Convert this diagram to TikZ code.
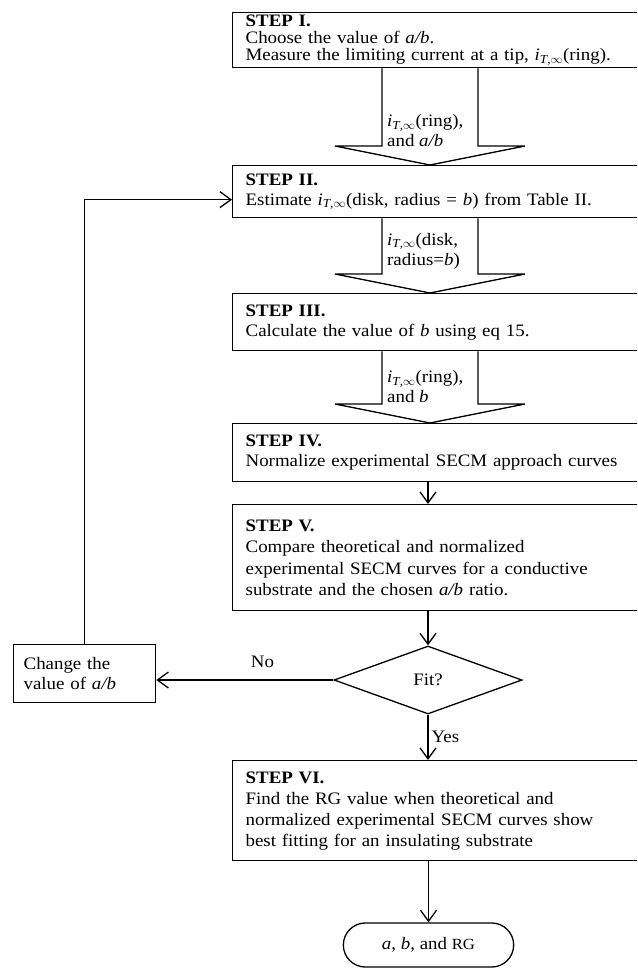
\documentclass[tikz,border=0pt]{standalone}
\usepackage{fontspec}
\setmainfont{Liberation Serif}[FakeStretch=1.08]
\usetikzlibrary{%
  shapes, shapes.geometric, shapes.misc, arrows, arrows.meta,
  calc, positioning,
}
\newcommand\itinf{\textit{i}\textsubscript{\textit{T},$\infty$}}
% block arrow between two step boxes, down the arrow column
\newcommand\blockarrow[2]{%
  \path (#1.south -| col) coordinate (ba) (#2.north -| col) coordinate (bb);
  \draw[blk] ([xshift=-48pt]ba) -- ([xshift=-48pt,yshift=19pt]bb)
    -- ([xshift=-95pt,yshift=19pt]bb) -- (bb)
    -- ([xshift=95pt,yshift=19pt]bb) -- ([xshift=48pt,yshift=19pt]bb)
    -- ([xshift=48pt]ba);}

\begin{document}
\begin{tikzpicture}[
  x=1pt, y=-1pt,
  font=\fontsize{17.5}{20}\selectfont,
  stepbox/.style={rectangle, draw, line width=1.3pt, anchor=north west,
    minimum width=440pt, text width=414pt, inner xsep=12pt, inner ysep=2pt,
    align=left},
  fitbox/.style={diamond, draw, line width=1.3pt, minimum width=188pt,
    minimum height=68pt, inner sep=0pt},
  endbox/.style={rounded rectangle, draw, line width=1.3pt,
    minimum width=177pt, minimum height=44pt},
  lbl/.style={align=left, inner sep=0pt, anchor=west},
  arr/.style={-{Straight Barb[length=11pt,width=16pt]}, line width=1.3pt},
  blk/.style={line width=1.3pt},
]
\useasboundingbox (0,0) rectangle (637,968);
\clip (0,0) rectangle (637,968);
\coordinate (col) at (430,0);

%% ── Steps ────────────────────────────────────────────────────────────────────
\node[stepbox, minimum height=55pt, font=\fontsize{17.5}{17}\selectfont]
  (s1) at (232,12)
  {\textbf{STEP I.}\\
   Choose the value of \textit{a/b}.\\
   Measure the limiting current at a tip, \itinf(ring).};

\node[stepbox, minimum height=52pt] (s2) at (232,165)
  {\textbf{STEP II.}\\
   Estimate \itinf(disk, radius = \textit{b}) from Table II.};

\node[stepbox, minimum height=57pt] (s3) at (232,293)
  {\textbf{STEP III.}\\
   Calculate the value of \textit{b} using eq 15.};

\node[stepbox, minimum height=58pt] (s4) at (232,423)
  {\textbf{STEP IV.}\\
   Normalize experimental SECM approach curves};

\node[stepbox, minimum height=106pt, font=\fontsize{17.5}{21.5}\selectfont]
  (s5) at (232,504)
  {\textbf{STEP V.}\\
   Compare theoretical and normalized\\
   experimental SECM curves for a conductive\\
   substrate and the chosen \textit{a/b} ratio.};

\node[fitbox] (fit) at (428,680) {Fit?};

\node[stepbox, minimum height=100pt, font=\fontsize{17.5}{21}\selectfont]
  (s6) at (232,760)
  {\textbf{STEP VI.}\\
   Find the RG value when theoretical and\\
   normalized experimental SECM curves show\\
   best fitting for an insulating substrate};

\node[endbox] (end) at (428.5,945)
  {\textit{a}, \textit{b}, and {\fontsize{15.5}{15}\selectfont RG}};

\node[rectangle, draw, line width=1.3pt, anchor=north west,
      minimum width=142pt, minimum height=58pt, text width=122pt,
      inner xsep=10pt, align=left]
  (chg) at (13,644)
  {Change the\\ value of \textit{a/b}};

%% ── Block arrows with what is passed on ──────────────────────────────────────
\blockarrow{s1}{s2}
\node[lbl] (p1) at (387,131) {\itinf(ring),\\ and \textit{a/b}};

\blockarrow{s2}{s3}
\node[lbl] (p2) at (387,251) {\itinf(disk,\\ radius=\textit{b})};

\blockarrow{s3}{s4}
\node[lbl] (p3) at (387,387) {\itinf(ring),\\ and \textit{b}};

%% ── Plain arrows ─────────────────────────────────────────────────────────────
\draw[arr] (fit.north |- s4.south) -- (fit.north |- s5.north);
\draw[arr] (fit.north |- s5.south) -- (fit.north);
\draw[arr] (fit.south) -- node[right, inner sep=3pt] {Yes} (fit.south |- s6.north);
\draw[arr] (end.north |- s6.south) -- (end.north);
\draw[arr] (fit.west) -- node[above=8pt, pos=0.4] {No} (fit.west -| chg.east);
\draw[arr] (chg.north) |- ([yshift=-8pt]s2.west);

\end{tikzpicture}
\end{document}
